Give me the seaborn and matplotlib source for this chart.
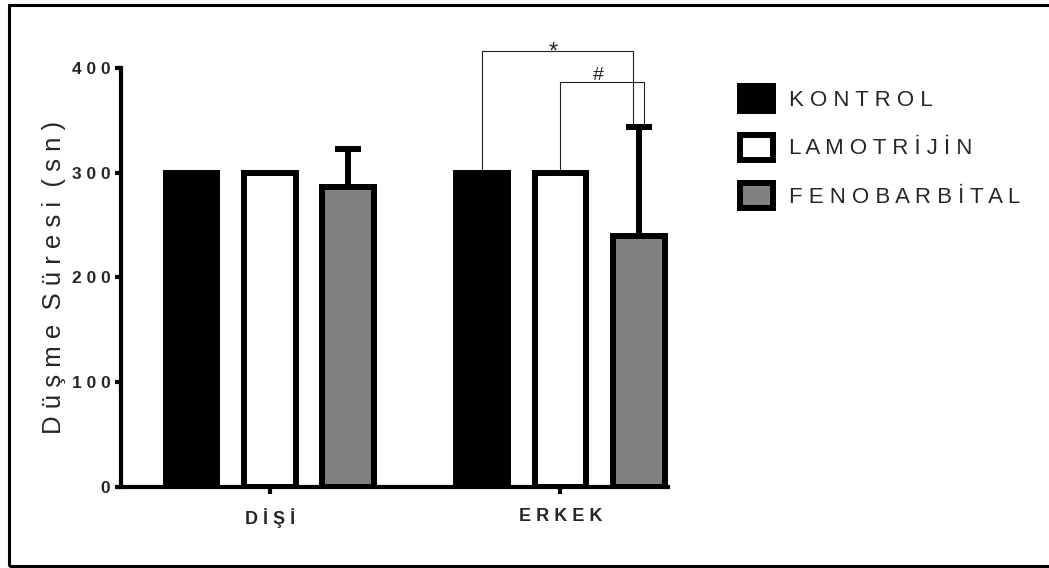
import matplotlib
matplotlib.use("Agg")
import matplotlib.pyplot as plt
from matplotlib.patches import Patch, Rectangle
import pandas as pd
import seaborn as sns

# Fall latency (seconds): group means and standard deviations
sexes = ["DİŞİ", "ERKEK"]
groups = ["KONTROL", "LAMOTRİJİN", "FENOBARBİTAL"]
kontrol_mean = [300, 300]
lamotrijin_mean = [300, 300]
fenobarbital_mean = [286, 240]
kontrol_sd = [0, 0]
lamotrijin_sd = [0, 0]
fenobarbital_sd = [37, 104]

y_ticks = [0, 100, 200, 300, 400]
y_title = "Düşme Süresi (sn)"

# Significance brackets drawn over the ERKEK group
bracket_sex = ["ERKEK", "ERKEK"]
bracket_left = ["KONTROL", "LAMOTRİJİN"]
bracket_right = ["FENOBARBİTAL", "FENOBARBİTAL"]
bracket_height = [416, 387]
bracket_mark = ["*", "#"]

bar_colors = ["#000000", "#ffffff", "#808080"]


def spaced(text, sep=" "):
    """Letter-spaced version of a label."""
    return sep.join(text)


means = [kontrol_mean, lamotrijin_mean, fenobarbital_mean]
sds = [kontrol_sd, lamotrijin_sd, fenobarbital_sd]
df = pd.DataFrame(
    [(s, g, means[gi][si]) for gi, g in enumerate(groups) for si, s in enumerate(sexes)],
    columns=["Cinsiyet", "Grup", "Süre"],
)

sns.set_style("ticks")
plt.rcParams["font.family"] = ["Liberation Sans", "DejaVu Sans"]

fig = plt.figure(figsize=(10.49, 5.68), dpi=100)
ax = fig.add_axes([0.1152, 0.1426, 0.5216, 0.7377])

EDGE = 4.3
sns.barplot(
    data=df, x="Cinsiyet", y="Süre", hue="Grup",
    order=sexes, hue_order=groups, palette=bar_colors, saturation=1,
    edgecolor="black", linewidth=EDGE, width=0.81, gap=0.34,
    errorbar=None, legend=False, ax=ax,
)


def bar_for(sex, group):
    cont = ax.containers[groups.index(group)]
    target = sexes.index(sex)
    return min(cont, key=lambda b: abs(b.get_x() + b.get_width() / 2 - target))


# Upper-only SD error bars
for gi, group in enumerate(groups):
    for si, sex in enumerate(sexes):
        sd = sds[gi][si]
        if sd <= 0:
            continue
        bar = bar_for(sex, group)
        xc = bar.get_x() + bar.get_width() / 2
        ax.errorbar(xc, bar.get_height(), yerr=[[0], [sd]], fmt="none",
                    ecolor="black", elinewidth=EDGE, capsize=9.4,
                    capthick=EDGE, zorder=0.5)

# Significance brackets
for k in range(len(bracket_mark)):
    lb = bar_for(bracket_sex[k], bracket_left[k])
    rb = bar_for(bracket_sex[k], bracket_right[k])
    gl = groups.index(bracket_left[k])
    gr = groups.index(bracket_right[k])
    si = sexes.index(bracket_sex[k])
    x1 = lb.get_x() + lb.get_width() / 2
    shift = (-0.106 if k == 0 else 0.106) * rb.get_width()
    x2 = rb.get_x() + rb.get_width() / 2 + shift
    y1 = means[gl][si] + 2
    y2 = means[gr][si] + sds[gr][si] + 2
    h = bracket_height[k]
    ax.plot([x1, x1, x2, x2], [y1, h, h, y2], color="#222222", lw=0.8,
            clip_on=False, zorder=3)
    off = -5.0 if bracket_mark[k] == "*" else 1.0
    ax.annotate(bracket_mark[k], xy=((x1 + x2) / 2 - 0.015, h), xytext=(0, off),
                textcoords="offset points", ha="center", va="baseline",
                fontsize=17 if bracket_mark[k] == "*" else 14,
                annotation_clip=False)

ax.set_ylim(0, 400)
ax.set_xlim(-0.513, 1.37)
ax.set_yticks(y_ticks)
ax.set_yticklabels([spaced(str(t)) for t in y_ticks], fontweight="bold", fontsize=12.5)
ax.set_xticks(range(len(sexes)))
ax.set_xticklabels([spaced(s) for s in sexes], fontweight="bold", fontsize=13)
ax.tick_params(axis="y", length=4.5, width=3, pad=3, color="black")
ax.tick_params(axis="x", length=5, width=3, pad=10, color="black")
ax.set_xlabel("")
ax.set_ylabel("  ".join(spaced(w) for w in y_title.split()), fontsize=18.5)
ax.yaxis.set_label_coords(-0.1, 0.5)

for side in ("top", "right"):
    ax.spines[side].set_visible(False)
for side in ("left", "bottom"):
    ax.spines[side].set_linewidth(3)
    ax.spines[side].set_color("black")

handles = [Patch(facecolor=c, edgecolor="black", linewidth=EDGE) for c in bar_colors]
ax.legend(handles, [spaced(g) for g in groups], loc="upper left",
          bbox_to_anchor=(0.7054, 0.848), bbox_transform=fig.transFigure,
          frameon=False, fontsize=16, handlelength=1.47, handleheight=1.36,
          handletextpad=0.75, labelspacing=1.04, borderpad=0, borderaxespad=0)

# Outer frame around the figure
fig.add_artist(Rectangle((0.0083, 0.0035), 1.2, 0.9885, transform=fig.transFigure,
                         fill=False, lw=2.2, edgecolor="black"))

fig.savefig("out.png", dpi=100)
